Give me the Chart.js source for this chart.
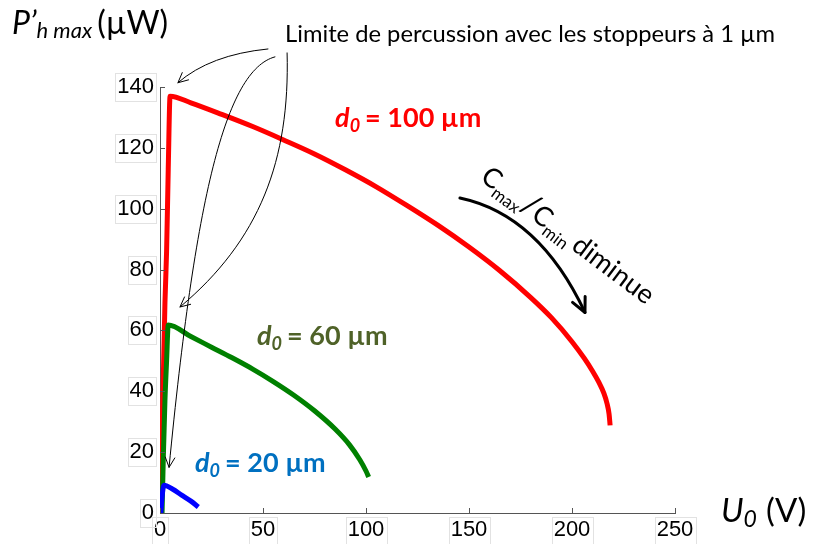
<!DOCTYPE html>
<html><head><meta charset="utf-8">
<script src="https://cdn.jsdelivr.net/npm/chart.js@4/dist/chart.umd.min.js"></script>
<style>html,body{margin:0;padding:0;background:#fff;}#wrap{width:816px;height:544px;position:relative;}</style>
</head><body><div id="wrap"><canvas id="c" width="816" height="544"></canvas></div>
<script>
// ---- data ----
const U_RED   = [0.5,1.3,2.4,3.2,4.0,4.9,15,30,45,60,75,90,105,120,135,150,165,180,190,200,206,210,213,215.5,217,218,218.5];
const P_RED   = [0,35,69,86,113,137,134.8,131,127,122.6,118,112.8,107.2,101,94.5,87.4,79.6,70.8,64.2,56.3,50.8,46.6,43,39.3,36,32.5,28.8];
const U_GREEN = [1.0,1.6,2.4,3.2,4.0,15,25,35,45,55,65,75,85,92,97,100,101.3];
const P_GREEN = [0,18,37,50,61.8,58,54.5,51,47.3,43.2,38.7,33.6,27.6,22.4,17.5,13.8,11.8];
const U_BLUE  = [0.4,0.9,1.9,6,10.5,15,18.6];
const P_BLUE  = [0,4.5,9.1,7.9,5.9,3.9,2.0];
const X_TICKS = [0,50,100,150,200,250];
const Y_TICKS = [0,20,40,60,80,100,120,140];
const SERIES_LABELS = ['d0 = 100 µm','d0 = 60 µm','d0 = 20 µm'];

const FONT = 'Lato, "Open Sans", sans-serif';
const TICK_FONT = {family:'"Liberation Sans", Arial, sans-serif', size:22};

function pts(us, ps){ return us.map((u,i)=>({x:u,y:ps[i]})); }

function runs(ctx, x, y, parts, color){
  ctx.fillStyle = color; ctx.textBaseline='alphabetic'; ctx.textAlign='left';
  let cx = x;
  for (const p of parts){ ctx.font = p.f; ctx.fillText(p.t, cx, y + (p.dy||0)); cx += ctx.measureText(p.t).width + (p.sp||0); }
  return cx - x;
}
function arrow(ctx, p, width, head){
  ctx.save(); ctx.strokeStyle='#000'; ctx.lineWidth=width; ctx.lineCap='round'; ctx.lineJoin='round';
  ctx.beginPath(); ctx.moveTo(p[0].x,p[0].y);
  if (p.length===3) ctx.quadraticCurveTo(p[1].x,p[1].y,p[2].x,p[2].y);
  else ctx.bezierCurveTo(p[1].x,p[1].y,p[2].x,p[2].y,p[3].x,p[3].y);
  ctx.stroke();
  const e=p[p.length-1], c=p[p.length-2];
  const a=Math.atan2(e.y-c.y,e.x-c.x);
  ctx.beginPath();
  ctx.moveTo(e.x-head*Math.cos(a-0.45), e.y-head*Math.sin(a-0.45));
  ctx.lineTo(e.x,e.y);
  ctx.lineTo(e.x-head*Math.cos(a+0.45), e.y-head*Math.sin(a+0.45));
  ctx.stroke(); ctx.restore();
}

const deco = {
  id:'deco',
  afterDraw(chart){
    const ctx=chart.ctx, xs=chart.scales.x, ys=chart.scales.y;
    const P=(u,v)=>({x:xs.getPixelForValue(u), y:ys.getPixelForValue(v)});
    const left=xs.left, bottom=ys.bottom;
    ctx.save();
    // inward ticks
    ctx.strokeStyle='#555'; ctx.lineWidth=1;
    ctx.beginPath();
    X_TICKS.forEach(v=>{const px=Math.round(xs.getPixelForValue(v))+0.5; ctx.moveTo(px,bottom); ctx.lineTo(px,bottom-5);});
    Y_TICKS.forEach(v=>{const py=Math.round(ys.getPixelForValue(v))+0.5; ctx.moveTo(left,py); ctx.lineTo(left+5,py);});
    ctx.stroke();
    // faint label boxes
    ctx.strokeStyle='#e2e2e2'; ctx.font='22px "Liberation Sans", Arial, sans-serif';
    Y_TICKS.forEach(v=>{const py=ys.getPixelForValue(v); const w=ctx.measureText(String(v)).width;
      ctx.strokeRect(Math.round(left-6-w-2)+0.5, Math.round(py-14)+0.5, Math.round(w+4), 28);});
    X_TICKS.forEach(v=>{const px=xs.getPixelForValue(v); const w=ctx.measureText(String(v)).width;
      ctx.strokeRect(Math.round(px-w/2-2)+0.5, bottom+4.5, Math.round(w+4), 28);});

    // axis titles
    runs(ctx, 12, 34, [
      {t:'P’', f:'italic 32px '+FONT},
      {t:'h max', f:'italic 22px '+FONT, dy:4, sp:5},
      {t:'(µW)', f:'32px '+FONT}], '#000');
    runs(ctx, 721, 522, [
      {t:'U', f:'italic 33px '+FONT},
      {t:'0', f:'italic 23px '+FONT, dy:5, sp:9},
      {t:'(V)', f:'33px '+FONT}], '#000');

    // "Limite ..." label fitted to width
    const lim='Limite de percussion avec les stoppeurs à 1 µm';
    ctx.font='20px '+FONT; const lw=ctx.measureText(lim).width; const ls=20*490/lw;
    ctx.font=ls.toFixed(2)+'px '+FONT; ctx.fillStyle='#000'; ctx.fillText(lim,285,42);

    // annotation arrows (data coordinates)
    arrow(ctx,[P(52.4,152.5),P(24.3,150.6),P(8.7,141.4)],1,11);
    arrow(ctx,[P(61.7,151.2),P(63.1,116),P(48.5,89.7),P(9.7,67.7)],1,11);
    arrow(ctx,[P(55.8,149.9),P(31.6,145.6),P(17,102.9),P(4.4,15.0)],1,11);
    arrow(ctx,[P(145.6,103.5),P(184,98),P(206.3,65.9)],3,16);

    // series labels
    const lab=(u,v,txt,col)=>{const p=P(u,v); const m=txt.match(/^d0 = (.*)$/);
      runs(ctx,p.x,p.y,[{t:'d',f:'italic bold 27px '+FONT},{t:'0',f:'italic bold 18px '+FONT,dy:5,sp:5},{t:'= '+m[1],f:'bold 27px '+FONT}],col);};
    lab(85,126.9,SERIES_LABELS[0],'#FF0000');
    lab(47.1,55.2,SERIES_LABELS[1],'#4F6228');
    lab(17,13.4,SERIES_LABELS[2],'#0070C0');

    // rotated Cmax/Cmin label
    const o=P(155,109.5);
    ctx.save(); ctx.translate(o.x,o.y); ctx.rotate(37*Math.PI/180);
    runs(ctx,0,0,[{t:'C',f:'27px '+FONT},{t:'max',f:'17px '+FONT,dy:6},{t:'/',f:'32px '+FONT},{t:'C',f:'27px '+FONT},{t:'min',f:'17px '+FONT,dy:6,sp:5},{t:'diminue',f:'27px '+FONT}],'#000');
    ctx.restore();
    ctx.restore();
  }
};

new Chart(document.getElementById('c'),{
  type:'scatter',
  data:{datasets:[
    {label:SERIES_LABELS[0],data:pts(U_RED,P_RED),borderColor:'#FF0000',borderWidth:5},
    {label:SERIES_LABELS[1],data:pts(U_GREEN,P_GREEN),borderColor:'#008000',borderWidth:5},
    {label:SERIES_LABELS[2],data:pts(U_BLUE,P_BLUE),borderColor:'#0000FF',borderWidth:5}
  ].map(d=>Object.assign(d,{showLine:true,pointRadius:0,cubicInterpolationMode:'monotone',borderJoinStyle:'round',borderCapStyle:'butt'}))
   .reverse()},
  options:{
    responsive:false, animation:false,
    layout:{padding:{top:87,right:141,left:0,bottom:0}},
    plugins:{legend:{display:false},tooltip:{enabled:false}},
    scales:{
      x:{type:'linear',min:0,max:250,
        afterBuildTicks:s=>{s.ticks=X_TICKS.map(v=>({value:v}));},
        afterFit:s=>{s.height=31;},
        grid:{display:false,drawTicks:false},
        border:{display:true,color:'#555',width:1},
        ticks:{font:TICK_FONT,color:'#000',padding:4,maxRotation:0}},
      y:{type:'linear',min:0,max:140,
        afterBuildTicks:s=>{s.ticks=Y_TICKS.map(v=>({value:v}));},
        afterFit:s=>{s.width=160;},
        grid:{display:false,drawTicks:false},
        border:{display:true,color:'#555',width:1},
        ticks:{font:TICK_FONT,color:'#000',padding:6}}
    }
  },
  plugins:[deco]
});
</script></body></html>
